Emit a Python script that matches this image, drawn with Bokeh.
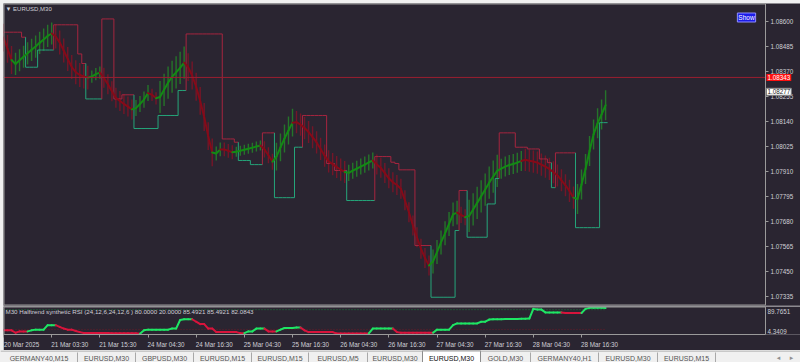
from bokeh.plotting import figure
from bokeh.models import (ColumnDataSource, FixedTicker, PrintfTickFormatter, Label, Range1d,
                          LinearAxis)
from bokeh.layouts import column
from bokeh.embed import file_html
from bokeh.resources import INLINE
from bokeh.core.properties import value

# ---------------- data (EURUSD M30, hourly samples) ----------------
time_labels = ["20 Mar 2025", "21 Mar 03:30", "21 Mar 15:30", "24 Mar 04:30", "24 Mar 16:30",
               "25 Mar 04:30", "25 Mar 16:30", "26 Mar 04:30", "26 Mar 16:30", "27 Mar 04:30",
               "27 Mar 16:30", "28 Mar 04:30", "28 Mar 16:30"]
hours_per_label = 12

price_ticks = [1.08600, 1.08485, 1.08370, 1.08255, 1.08140, 1.08025,
               1.07910, 1.07795, 1.07680, 1.07565, 1.07450, 1.07335]
price_top, price_bottom = 1.08683, 1.07294
bid_line = 1.08343
last_price = 1.08277

# smoothed synthetic line
center = [1.08526, 1.08475, 1.08423, 1.08405, 1.08422, 1.08438, 1.08454, 1.08470, 1.08485, 1.08502,
          1.08517, 1.08534, 1.08545, 1.08531, 1.08504, 1.08467, 1.08428, 1.08391, 1.08367, 1.08354,
          1.08347, 1.08342, 1.08347, 1.08358, 1.08365, 1.08341, 1.08312, 1.08279, 1.08249, 1.08235,
          1.08221, 1.08209, 1.08196, 1.08202, 1.08221, 1.08241, 1.08271, 1.08263, 1.08247, 1.08253,
          1.08286, 1.08319, 1.08346, 1.08366, 1.08387, 1.08411, 1.08390, 1.08352, 1.08300, 1.08235,
          1.08161, 1.08073, 1.07998, 1.07993, 1.08012, 1.08012, 1.08005, 1.07999, 1.08001, 1.08006,
          1.08010, 1.08015, 1.08020, 1.08025, 1.08030, 1.08012, 1.07985, 1.07955, 1.07979, 1.08021,
          1.08062, 1.08099, 1.08135, 1.08137, 1.08126, 1.08110, 1.08092, 1.08068, 1.08044, 1.08014,
          1.07983, 1.07957, 1.07944, 1.07931, 1.07919, 1.07908, 1.07904, 1.07914, 1.07923, 1.07933,
          1.07942, 1.07952, 1.07961, 1.07943, 1.07927, 1.07903, 1.07879, 1.07861, 1.07848, 1.07831,
          1.07778, 1.07723, 1.07662, 1.07608, 1.07555, 1.07513, 1.07478, 1.07496, 1.07540, 1.07584,
          1.07626, 1.07669, 1.07713, 1.07721, 1.07711, 1.07700, 1.07706, 1.07736, 1.07766, 1.07796,
          1.07827, 1.07859, 1.07887, 1.07913, 1.07923, 1.07933, 1.07940, 1.07945, 1.07951, 1.07959,
          1.07964, 1.07960, 1.07956, 1.07951, 1.07942, 1.07933, 1.07922, 1.07907, 1.07892, 1.07870,
          1.07847, 1.07821, 1.07790, 1.07784, 1.07850, 1.07922, 1.08005, 1.08081, 1.08132, 1.08173,
          1.08215]

# trend of the synthetic line (1 = up / green, 0 = down / red)
trend = [0, 0, 0, 1, 1, 1, 1, 1, 1, 1,
         1, 1, 1, 0, 0, 0, 0, 0, 0, 0,
         0, 0, 1, 1, 1, 0, 0, 0, 0, 0,
         0, 0, 0, 1, 1, 1, 1, 0, 0, 1,
         1, 1, 1, 1, 1, 1, 0, 0, 0, 0,
         0, 0, 0, 1, 1, 0, 0, 0, 1, 1,
         1, 1, 1, 1, 1, 0, 0, 0, 1, 1,
         1, 1, 1, 0, 0, 0, 0, 0, 0, 0,
         0, 0, 0, 0, 0, 0, 1, 1, 1, 1,
         1, 1, 1, 0, 0, 0, 0, 0, 0, 0,
         0, 0, 0, 0, 0, 0, 0, 1, 1, 1,
         1, 1, 1, 1, 0, 0, 1, 1, 1, 1,
         1, 1, 1, 1, 1, 1, 1, 1, 1, 1,
         0, 0, 0, 0, 0, 0, 0, 0, 0, 0,
         0, 0, 0, 1, 1, 1, 1, 1, 1, 1,
         1]

# half height of the histogram band around the line
band_w = [0.00064, 0.00064, 0.00064, 0.00051, 0.00051, 0.00051, 0.00051, 0.00051, 0.00051, 0.00051,
          0.00051, 0.00051, 0.00051, 0.00055, 0.00055, 0.00055, 0.00055, 0.00055, 0.00055, 0.00055,
          0.00055, 0.00055, 0.00028, 0.00028, 0.00028, 0.00046, 0.00046, 0.00046, 0.00046, 0.00046,
          0.00046, 0.00046, 0.00046, 0.00037, 0.00037, 0.00037, 0.00037, 0.00028, 0.00028, 0.00074,
          0.00074, 0.00074, 0.00074, 0.00074, 0.00074, 0.00074, 0.00064, 0.00064, 0.00064, 0.00064,
          0.00064, 0.00064, 0.00064, 0.00032, 0.00032, 0.00032, 0.00032, 0.00032, 0.00023, 0.00023,
          0.00023, 0.00023, 0.00023, 0.00023, 0.00023, 0.00037, 0.00037, 0.00037, 0.00064, 0.00064,
          0.00064, 0.00064, 0.00064, 0.00051, 0.00051, 0.00051, 0.00051, 0.00051, 0.00051, 0.00051,
          0.00051, 0.00051, 0.00051, 0.00051, 0.00051, 0.00051, 0.00037, 0.00037, 0.00037, 0.00037,
          0.00037, 0.00037, 0.00037, 0.00046, 0.00046, 0.00046, 0.00046, 0.00046, 0.00046, 0.00046,
          0.00046, 0.00046, 0.00046, 0.00046, 0.00046, 0.00046, 0.00046, 0.00055, 0.00055, 0.00055,
          0.00055, 0.00055, 0.00055, 0.00055, 0.00037, 0.00037, 0.00074, 0.00074, 0.00074, 0.00074,
          0.00074, 0.00074, 0.00074, 0.00074, 0.00046, 0.00046, 0.00046, 0.00046, 0.00046, 0.00046,
          0.00051, 0.00051, 0.00051, 0.00051, 0.00051, 0.00051, 0.00051, 0.00051, 0.00051, 0.00051,
          0.00051, 0.00051, 0.00051, 0.00069, 0.00069, 0.00069, 0.00069, 0.00069, 0.00069, 0.00069,
          0.00069]

# Halftrend step line
halftrend = [1.08551, 1.08551, 1.08551, 1.08551, 1.08551, 1.08528, 1.08390, 1.08390, 1.08390, 1.08469,
             1.08469, 1.08469, 1.08469, 1.08585, 1.08585, 1.08585, 1.08585, 1.08585, 1.08585, 1.08451,
             1.08407, 1.08244, 1.08244, 1.08244, 1.08244, 1.08612, 1.08612, 1.08612, 1.08244, 1.08244,
             1.08263, 1.08263, 1.08263, 1.08108, 1.08108, 1.08108, 1.08108, 1.08108, 1.08108, 1.08168,
             1.08168, 1.08168, 1.08168, 1.08168, 1.08283, 1.08283, 1.08543, 1.08543, 1.08543, 1.08543,
             1.08543, 1.08543, 1.08543, 1.08543, 1.08543, 1.08060, 1.08060, 1.08060, 1.08045, 1.07961,
             1.07961, 1.07961, 1.07942, 1.07942, 1.07942, 1.08088, 1.08088, 1.08088, 1.07790, 1.07790,
             1.07790, 1.07790, 1.07790, 1.08022, 1.08022, 1.08168, 1.08168, 1.08168, 1.08168, 1.08168,
             1.08168, 1.07947, 1.07947, 1.07915, 1.07915, 1.07915, 1.07777, 1.07777, 1.07777, 1.07777,
             1.07777, 1.07777, 1.07777, 1.07979, 1.07979, 1.07979, 1.07979, 1.07953, 1.07947, 1.07918,
             1.07918, 1.07918, 1.07918, 1.07570, 1.07570, 1.07570, 1.07570, 1.07332, 1.07332, 1.07332,
             1.07332, 1.07332, 1.07332, 1.07639, 1.07823, 1.07823, 1.07608, 1.07608, 1.07608, 1.07608,
             1.07608, 1.07761, 1.07761, 1.07878, 1.08088, 1.08088, 1.08088, 1.08088, 1.08022, 1.08022,
             1.08022, 1.08014, 1.08014, 1.08014, 1.07968, 1.07968, 1.07951, 1.07836, 1.07996, 1.07996,
             1.07996, 1.07996, 1.07996, 1.07652, 1.07652, 1.07652, 1.07652, 1.07652, 1.07652, 1.08135,
             1.08135]

halftrend_up = [0, 0, 0, 0, 0, 0, 1, 1, 1, 1,
                1, 1, 1, 0, 0, 0, 0, 0, 0, 0,
                0, 1, 1, 1, 1, 0, 0, 0, 0, 0,
                0, 0, 0, 1, 1, 1, 1, 1, 1, 1,
                1, 1, 1, 1, 1, 1, 0, 0, 0, 0,
                0, 0, 0, 0, 0, 0, 0, 0, 0, 1,
                1, 1, 1, 1, 1, 0, 0, 0, 1, 1,
                1, 1, 1, 1, 1, 0, 0, 0, 0, 0,
                0, 0, 0, 0, 0, 0, 1, 1, 1, 1,
                1, 1, 1, 0, 0, 0, 0, 0, 0, 0,
                0, 0, 0, 0, 0, 0, 0, 1, 1, 1,
                1, 1, 1, 1, 0, 0, 1, 1, 1, 1,
                1, 1, 1, 1, 0, 0, 0, 0, 0, 0,
                0, 0, 0, 0, 0, 0, 0, 1, 0, 0,
                0, 0, 0, 1, 1, 1, 1, 1, 1, 1,
                1]

# synthetic RSI sub-window
rsi = [17.0, 17.0, 17.0, 9.7, 13.8, 13.8, 13.8, 17.0, 19.2, 19.2,
       19.2, 32.8, 32.8, 32.8, 27.4, 22.4, 19.2, 19.2, 15.0, 11.6,
       9.1, 9.1, 9.1, 9.1, 9.1, 9.1, 9.1, 8.0, 8.0, 8.0,
       8.0, 8.0, 8.0, 8.0, 6.6, 17.0, 19.2, 19.2, 19.2, 19.2,
       19.2, 19.2, 22.4, 22.4, 48.6, 50.8, 50.8, 50.8, 43.3, 36.0,
       36.0, 22.4, 22.4, 11.6, 11.6, 11.6, 11.6, 11.6, 11.6, 8.5,
       8.5, 13.8, 13.8, 22.4, 22.4, 22.4, 13.8, 13.8, 13.8, 19.2,
       24.3, 24.3, 24.3, 25.6, 25.6, 17.0, 11.6, 11.6, 11.6, 11.6,
       11.6, 11.6, 11.6, 7.5, 7.5, 7.5, 7.5, 7.5, 7.5, 7.5,
       7.5, 7.5, 22.4, 22.4, 22.4, 22.4, 22.4, 22.4, 11.6, 9.7,
       9.7, 9.7, 9.7, 9.7, 9.7, 9.7, 9.7, 9.7, 19.2, 19.2,
       19.2, 19.2, 32.8, 38.2, 38.2, 38.2, 38.2, 38.2, 38.2, 43.3,
       43.3, 50.0, 50.5, 51.0, 51.0, 51.5, 51.5, 52.0, 52.0, 52.5,
       52.5, 53.0, 82.5, 80.3, 80.3, 71.7, 71.7, 71.7, 71.7, 71.7,
       69.8, 69.8, 69.8, 69.8, 69.8, 82.5, 85.6, 85.6, 85.6, 85.6,
       85.5]

rsi_up = [0, 0, 0, 0, 0, 0, 0, 1, 1, 1,
          1, 1, 1, 1, 0, 0, 0, 0, 0, 0,
          0, 0, 0, 0, 0, 0, 0, 0, 0, 0,
          0, 0, 0, 0, 0, 1, 1, 1, 1, 1,
          1, 1, 1, 1, 1, 1, 1, 1, 0, 0,
          0, 0, 0, 0, 0, 0, 0, 0, 0, 0,
          0, 1, 1, 1, 1, 1, 0, 0, 0, 1,
          1, 1, 1, 1, 1, 0, 0, 0, 0, 0,
          0, 0, 0, 0, 0, 0, 0, 0, 0, 0,
          0, 0, 1, 1, 1, 1, 1, 1, 0, 0,
          0, 0, 0, 0, 0, 0, 0, 0, 1, 1,
          1, 1, 1, 1, 1, 1, 1, 1, 1, 1,
          1, 1, 1, 1, 1, 1, 1, 1, 1, 1,
          1, 1, 1, 1, 1, 1, 1, 1, 1, 1,
          0, 0, 0, 0, 0, 1, 1, 1, 1, 1,
          1]
rsi_levels = [80.0, 20.0]
rsi_min, rsi_max = 4.3409, 89.7651
rsi_title = "M30 Halftrend synthetic RSI  (24,12,6,24,12,6 ) 80.0000 20.0000 85.4921 85.4921 82.0843"

tab_names = ["GERMANY40,M15", "EURUSD,M30", "GBPUSD,M30", "EURUSD,M15", "EURUSD,M15", "EURUSD,M5",
             "EURUSD,M30", "EURUSD,M30", "GOLD,M30", "GERMANY40,H1", "EURUSD,M30", "EURUSD,M15"]
active_tab = 7

n = len(center)
assert len(trend) == n and len(band_w) == n and len(halftrend) == n
assert len(halftrend_up) == n and len(rsi) == n and len(rsi_up) == n
hours = list(range(n))

# ---------------- styles / geometry ----------------
BG = "#2a2531"
FRAME = "#9a9a9a"
TXT = "#cfcfd6"
FONT = "Liberation Sans"
G_LINE, R_LINE = "#138a14", "#860a18"
G_HATCH, R_HATCH = "#25742a", "#741628"
G_STEP, R_STEP = "#25a57a", "#a6253f"
G_RSI, R_RSI = "#1ee664", "#d8143c"

PX_PER_HOUR = 4.014
PANE_W = 797            # chart window width (plot + price scale)
CHART_W = 762           # width of the drawing area left of the price scale
x_range = Range1d(0, PANE_W / PX_PER_HOUR)
scale_x = CHART_W / PX_PER_HOUR   # where the price scale sits


def border_axis(fig, side, loc, bounds="auto"):
    ax = LinearAxis(fixed_location=loc, ticker=FixedTicker(ticks=[]), axis_line_color=FRAME,
                    axis_line_width=2, major_tick_line_color=None, minor_tick_line_color=None,
                    major_label_text_font_size="0px", bounds=bounds)
    fig.add_layout(ax, side)
    return ax


# ---------------- main price pane ----------------
main = figure(width=PANE_W, height=303, frame_width=PANE_W, frame_height=302,
              x_range=x_range, y_range=Range1d(price_bottom, price_top),
              output_backend="svg", toolbar_location=None, x_axis_location=None,
              y_axis_location="right", min_border_left=0, min_border_right=0,
              min_border_top=0, min_border_bottom=1, background_fill_color=BG,
              border_fill_color=BG, outline_line_color=None, margin=(3, 0, 0, 3))
main.xgrid.visible = False
main.ygrid.visible = False
ya = main.yaxis[0]
ya.fixed_location = scale_x
ya.ticker = FixedTicker(ticks=price_ticks)
ya.formatter = PrintfTickFormatter(format="%.5f")
ya.axis_line_color = FRAME
ya.axis_line_width = 1
ya.major_tick_line_color = FRAME
ya.major_tick_out = 3
ya.major_tick_in = 0
ya.minor_tick_line_color = None
ya.major_label_standoff = 2
ya.major_label_text_font_size = "6.3px"
ya.major_label_text_color = TXT
ya.major_label_text_font = FONT
border_axis(main, "above", price_top, (0, scale_x))
border_axis(main, "below", price_bottom, (0, scale_x))
border_axis(main, "left", 0)

# histogram band
hatch_src = ColumnDataSource(dict(
    x=hours,
    y0=[c - w for c, w in zip(center, band_w)],
    y1=[c + w for c, w in zip(center, band_w)],
    color=[G_HATCH if t else R_HATCH for t in trend]))
main.segment(x0="x", y0="y0", x1="x", y1="y1", source=hatch_src, line_color="color", line_width=1.4)

# halftrend step line
sx0, sx1, sy0, sy1, sc = [], [], [], [], []
for i in range(n):
    col = G_STEP if halftrend_up[i] else R_STEP
    sx0.append(i - 0.5); sx1.append(i + 0.5); sy0.append(halftrend[i]); sy1.append(halftrend[i]); sc.append(col)
    if i > 0 and halftrend[i] != halftrend[i - 1]:
        sx0.append(i - 0.5); sx1.append(i - 0.5); sy0.append(halftrend[i - 1]); sy1.append(halftrend[i]); sc.append(col)
main.segment(x0=sx0, y0=sy0, x1=sx1, y1=sy1, line_color=sc, line_width=1)

# synthetic line
line_src = ColumnDataSource(dict(
    x0=hours[:-1], x1=hours[1:], y0=center[:-1], y1=center[1:],
    color=[G_LINE if t else R_LINE for t in trend[1:]]))
main.segment(x0="x0", y0="y0", x1="x1", y1="y1", source=line_src, line_color="color",
             line_width=2, line_cap="round")

# bid line and price tags on the scale
main.segment(x0=[0], x1=[scale_x], y0=[bid_line], y1=[bid_line], line_color="#9a1f30", line_width=1)
main.add_layout(Label(x=scale_x, y=bid_line, x_offset=1, text=f"{bid_line:.5f}",
                      text_font=FONT, text_font_size="6.3px", text_color="#ffffff",
                      text_align="left", text_baseline="middle",
                      background_fill_color="#ff1010", padding=1))
main.add_layout(Label(x=scale_x, y=last_price, x_offset=1, text=f"{last_price:.5f}",
                      text_font=FONT, text_font_size="6.3px", text_color="#202020",
                      text_align="left", text_baseline="middle",
                      background_fill_color="#ffffff", border_line_color="#808080", padding=1))
main.add_layout(Label(x=2, y=297, x_units="screen", y_units="screen", text="\u25bc EURUSD,M30",
                      text_font=FONT, text_font_size="6px", text_color=TXT, text_baseline="middle"))
main.add_layout(Label(x=743, y=288, x_units="screen", y_units="screen", text="Show",
                      text_font=FONT, text_font_size="6.5px", text_color="#ffffff",
                      text_align="center", text_baseline="middle",
                      background_fill_color="#1c1ce8", border_line_color="#9090ff", padding=1))

# ---------------- RSI sub-window ----------------
ind = figure(width=PANE_W, height=41, frame_width=PANE_W, frame_height=28,
             x_range=x_range, y_range=Range1d(rsi_min, rsi_max),
             output_backend="svg", toolbar_location=None, y_axis_location="right",
             min_border_left=0, min_border_right=0, min_border_top=0, min_border_bottom=13,
             background_fill_color=BG, border_fill_color=BG, outline_line_color=None,
             margin=(0, 0, 0, 3))
ind.xgrid.visible = False
ind.ygrid.visible = False

label_shift = 4.5  # centre of a left-aligned label, in hours
tick_hours = [k * hours_per_label for k in range(len(time_labels))]
xa = ind.xaxis[0]
xa.ticker = FixedTicker(ticks=[h + label_shift for h in tick_hours], minor_ticks=tick_hours)
xa.major_label_overrides = {h + label_shift: lab for h, lab in zip(tick_hours, time_labels)}
xa.bounds = (0, scale_x)
xa.axis_line_color = FRAME
xa.major_tick_line_color = None
xa.major_tick_out = 0
xa.major_tick_in = 0
xa.minor_tick_line_color = FRAME
xa.minor_tick_out = 3
xa.minor_tick_in = 0
xa.major_label_standoff = 3
xa.major_label_text_font_size = "6.3px"
xa.major_label_text_color = TXT
xa.major_label_text_font = FONT

yb = ind.yaxis[0]
yb.fixed_location = scale_x
label_pos = [73.0, 13.5]
yb.ticker = FixedTicker(ticks=label_pos)
yb.major_label_overrides = {label_pos[0]: f"{rsi_max:.4f}", label_pos[1]: f"{rsi_min:.4f}"}
yb.axis_line_color = FRAME
yb.major_tick_line_color = None
yb.minor_tick_line_color = None
yb.major_tick_out = 0
yb.major_label_standoff = 2
yb.major_label_text_font_size = "6.3px"
yb.major_label_text_color = TXT
yb.major_label_text_font = FONT
border_axis(ind, "above", rsi_max, (0, scale_x))
border_axis(ind, "left", 0)

ind.segment(x0=hours[0], x1=hours[-1], y0=rsi_levels[0], y1=rsi_levels[0],
            line_color="#177a3a", line_dash="1 2", line_width=1)
ind.segment(x0=hours[0], x1=hours[-1], y0=rsi_levels[1], y1=rsi_levels[1],
            line_color="#6e1a2a", line_dash="1 2", line_width=1)

rsi_src = ColumnDataSource(dict(
    x0=hours[:-1], x1=hours[1:], y0=rsi[:-1], y1=rsi[1:],
    color=[G_RSI if u else R_RSI for u in rsi_up[1:]]))
ind.segment(x0="x0", y0="y0", x1="x1", y1="y1", source=rsi_src, line_color="color",
            line_width=2, line_cap="round")
ind.add_layout(Label(x=2, y=23, x_units="screen", y_units="screen", text=rsi_title,
                     text_font=FONT, text_font_size="6.2px", text_color=TXT, text_baseline="middle"))

# ---------------- tab strip ----------------
tab_edges = [0, 77, 135, 193, 251, 308, 367, 422, 480, 530, 598, 657, 715]
tabs = figure(width=800, height=15, frame_width=800, frame_height=15,
              x_range=Range1d(0, 800), y_range=Range1d(0, 15),
              output_backend="svg", toolbar_location=None, x_axis_location=None,
              y_axis_location=None, min_border=0, min_border_left=0, min_border_right=0,
              min_border_top=0, min_border_bottom=0, background_fill_color="#f0f0f0",
              border_fill_color="#f0f0f0", outline_line_color=None)
tabs.xgrid.visible = False
tabs.ygrid.visible = False
tabs.quad(left=tab_edges[active_tab], right=tab_edges[active_tab + 1], bottom=0.5, top=15,
          fill_color="#ffffff", line_color="#8c8c8c", line_width=1)
tabs.segment(x0=[0], x1=[800], y0=[14.5], y1=[14.5], line_color="#a0a0a0", line_width=1)
sep = [e for k, e in enumerate(tab_edges[1:], 1) if k not in (active_tab, active_tab + 1)]
tabs.segment(x0=sep, x1=sep, y0=[2] * len(sep), y1=[13] * len(sep), line_color="#a8a8a8", line_width=1)
centers = [(tab_edges[k] + tab_edges[k + 1]) / 2 for k in range(len(tab_names) - 1)]
centers.append(tab_edges[-1] - 29)
tabs.text(x=centers, y=[7.2] * len(centers), text=tab_names,
          text_color=["#101010" if k == active_tab else "#555555" for k in range(len(tab_names))],
          text_font=value(FONT), text_font_size="7px", text_align="center", text_baseline="middle")
tabs.text(x=[778, 791], y=[7.2, 7.2], text=["\u25c2", "\u25b8"], text_color="#909090",
          text_font=value("DejaVu Sans"), text_font_size="7px", text_align="center",
          text_baseline="middle")

layout = column(main, ind, tabs, spacing=0, styles={"background-color": "#f0f0f0"})
open("out.html", "w").write(file_html(layout, INLINE))
